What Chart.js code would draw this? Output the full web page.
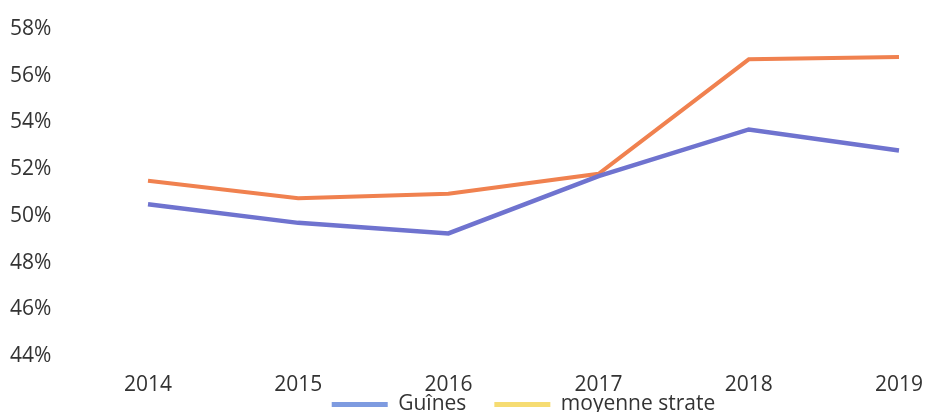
<!DOCTYPE html>
<html>
<head>
<meta charset="utf-8">
<script src="https://cdn.jsdelivr.net/npm/chart.js@4/dist/chart.umd.min.js"></script>
<style>
  html, body { margin: 0; padding: 0; background: #fff; overflow: hidden; }
  #wrap { width: 939px; height: 412px; position: relative; }
</style>
</head>
<body>
<div id="wrap"><canvas id="c"></canvas></div>
<script>
// Années
const years = ['2014', '2015', '2016', '2017', '2018', '2019'];
// Part (%) – commune de Guînes
const guines = [50.5, 49.7, 49.25, 51.7, 53.7, 52.8];
// Part (%) – moyenne de la strate
const moyenneStrate = [51.5, 50.75, 50.95, 51.8, 56.7, 56.8];

const yMin = 44, yMax = 58, yStep = 2;

const FONT = { family: '"Open Sans", sans-serif', size: 21 };
const TEXT = '#333333';
const LEGEND_GAP = 28;

// The legend's label padding also spaces the items apart horizontally;
// pull the legend back up so it hugs the year labels.
const legendLift = {
  id: 'legendLift',
  afterLayout(chart) {
    const lg = chart.legend;
    if (lg) { lg.top -= LEGEND_GAP; lg.bottom -= LEGEND_GAP; }
  }
};

new Chart(document.getElementById('c'), {
  type: 'line',
  data: {
    labels: years,
    datasets: [
      {
        label: 'Guînes',
        data: guines,
        borderColor: '#6f73cf',
        borderWidth: 4.5,
        pointRadius: 0,
        tension: 0,
        legendColor: '#7e9be0'
      },
      {
        label: 'moyenne strate',
        data: moyenneStrate,
        borderColor: '#f0814f',
        borderWidth: 4,
        pointRadius: 0,
        tension: 0,
        legendColor: '#f6dc72'
      }
    ]
  },
  plugins: [legendLift],
  options: {
    responsive: true,
    maintainAspectRatio: false,
    animation: false,
    layout: { padding: { left: 10, right: 24, top: 29, bottom: -41 } },
    plugins: {
      tooltip: { enabled: false },
      legend: {
        position: 'bottom',
        fullSize: false,
        labels: {
          font: FONT,
          color: TEXT,
          boxWidth: 56,
          boxHeight: 5,
          padding: LEGEND_GAP,
          generateLabels: (chart) => chart.data.datasets.map((ds, i) => ({
            text: ds.label,
            fillStyle: ds.legendColor,
            strokeStyle: ds.legendColor,
            lineWidth: 0,
            fontColor: TEXT,
            datasetIndex: i,
            hidden: false
          }))
        }
      }
    },
    scales: {
      x: {
        offset: false,
        grid: { display: false, drawTicks: false },
        border: { display: false },
        afterFit: (axis) => { axis.height = 38; },
        ticks: { font: FONT, color: TEXT, padding: 16, maxRotation: 0 }
      },
      y: {
        min: yMin,
        max: yMax,
        grid: { display: false, drawTicks: false },
        border: { display: false },
        afterFit: (axis) => { axis.width = 138; },
        ticks: {
          stepSize: yStep,
          font: FONT,
          color: TEXT,
          padding: 0,
          crossAlign: 'far',
          callback: (v) => v + '%'
        }
      }
    }
  }
});
</script>
</body>
</html>
